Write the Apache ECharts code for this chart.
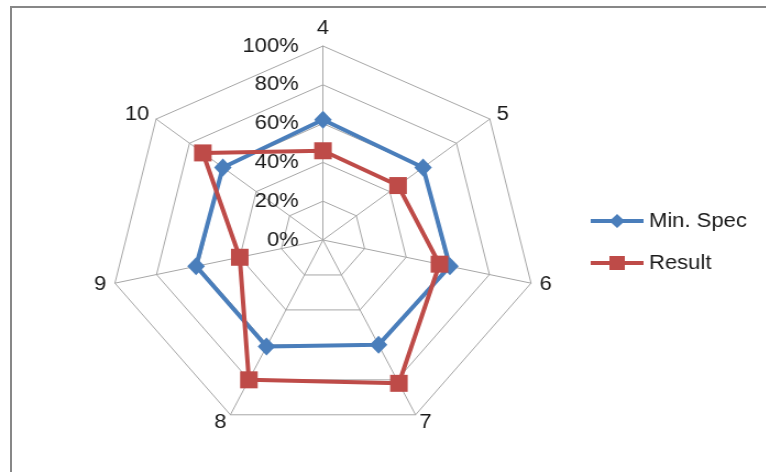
<!DOCTYPE html>
<html>
<head>
<meta charset="utf-8">
<script src="https://cdn.jsdelivr.net/npm/echarts@6/dist/echarts.min.js"></script>
<style>
  html, body { margin: 0; padding: 0; background: #fff; overflow: hidden; }
  #frame { position: absolute; left: 10px; top: 6px; width: 800px; height: 500px;
           border-left: 2px solid #878787; border-top: 2px solid #878787; }
  #chart { position: absolute; left: 0; top: 0; width: 696px; height: 472px;
           transform: scaleX(1.1); transform-origin: 0 0; }
</style>
</head>
<body>
<div id="frame"></div>
<div id="chart"></div>
<script>
// Data (in clockwise order, starting at the top)
const categories = ['4', '5', '6', '7', '8', '9', '10'];
const minSpec = [62, 60, 61, 60, 61, 61, 60];
const result = [46, 45, 56, 82, 80, 40, 72];
const seriesNames = ['Min. Spec', 'Result'];
const axisMax = 100;

const FONT = 'Liberation Sans';
const TEXT = '#1a1a1a';
const BLUE = '#4a7ebb';
const RED = '#be4b48';

// ECharts radar runs counter-clockwise; reorder so the picture runs clockwise
const order = categories.map((_, i) => (categories.length - i) % categories.length);
const reorder = arr => order.map(i => arr[i]);

const chart = echarts.init(document.getElementById('chart'), null, { renderer: 'canvas' });

const indicator = order.map((ci, k) => {
  const o = { name: categories[ci], min: 0, max: axisMax };
  if (k === 0) {
    o.axisLabel = { show: true, formatter: '{value}%', color: TEXT, fontSize: 20, fontFamily: FONT, margin: 22 };
  }
  return o;
});

const lineDiamond = 'path://M0 6L48 6L48 10L0 10Z M24 1L31 8L24 15L17 8Z M0 0L0.01 0L0.01 0.01Z M0 16L0.01 16L0.01 15.99Z';
const lineSquare = 'path://M0 6L48 6L48 10L0 10Z M17 1L31 1L31 15L17 15Z M0 0L0.01 0L0.01 0.01Z M0 16L0.01 16L0.01 15.99Z';

chart.setOption({
  animation: false,
  backgroundColor: 'transparent',
  legend: {
    orient: 'vertical',
    left: 532,
    top: 206,
    itemWidth: 48,
    itemHeight: 16,
    itemGap: 22,
    data: [
      { name: seriesNames[0], icon: lineDiamond },
      { name: seriesNames[1], icon: lineSquare }
    ],
    textStyle: { color: TEXT, fontSize: 20, fontFamily: FONT }
  },
  radar: {
    center: [293.6, 240],
    radius: 194,
    startAngle: 90,
    splitNumber: 5,
    shape: 'polygon',
    nameGap: 8,
    axisName: { color: TEXT, fontSize: 20, fontFamily: FONT },
    splitLine: { lineStyle: { color: '#a6a6a6', width: 1 } },
    splitArea: { show: false },
    axisLine: { lineStyle: { color: '#a6a6a6', width: 1 } },
    axisLabel: { show: false },
    indicator: indicator
  },
  series: [{
    type: 'radar',
    data: [
      {
        name: seriesNames[0],
        value: reorder(minSpec),
        symbol: 'diamond',
        symbolSize: [16, 18],
        itemStyle: { color: BLUE },
        lineStyle: { color: BLUE, width: 4 }
      },
      {
        name: seriesNames[1],
        value: reorder(result),
        symbol: 'rect',
        symbolSize: [16, 17],
        itemStyle: { color: RED },
        lineStyle: { color: RED, width: 4 }
      }
    ]
  }]
});
</script>
</body>
</html>
